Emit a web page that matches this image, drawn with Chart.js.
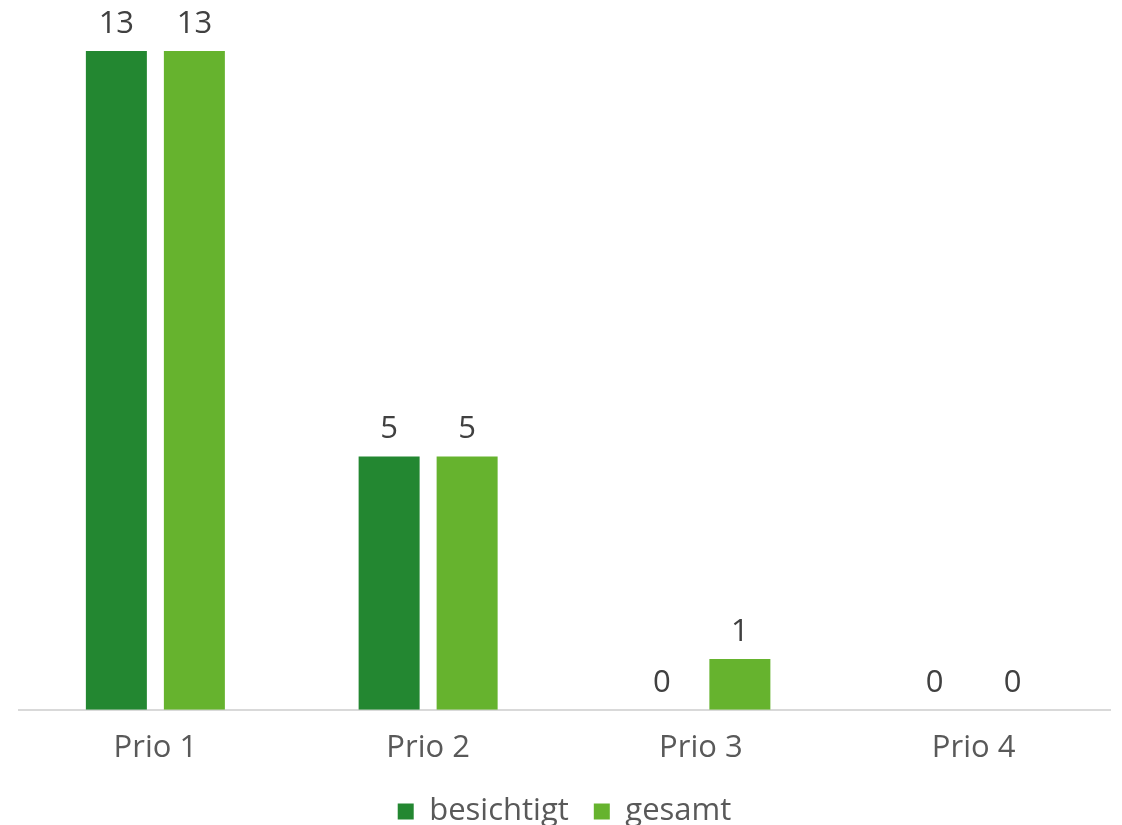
<!DOCTYPE html>
<html>
<head>
<meta charset="utf-8">
<script src="https://cdn.jsdelivr.net/npm/chart.js@4/dist/chart.umd.min.js"></script>
<style>
html,body{margin:0;padding:0;background:#fff;}
#wrap{width:1122px;height:825px;}
</style>
</head>
<body>
<div id="wrap"><canvas id="c" width="1122" height="825"></canvas></div>
<script>
const categories = ["Prio 1", "Prio 2", "Prio 3", "Prio 4"];
const besichtigt = [13, 5, 0, 0];
const gesamt = [13, 5, 1, 0];
const seriesNames = ["besichtigt", "gesamt"];
const colors = ["#238731", "#66b32e"];
const FONT = "'Open Sans', 'Noto Sans', sans-serif";

const valueLabels = {
  id: 'valueLabels',
  afterDatasetsDraw(chart) {
    const ctx = chart.ctx;
    ctx.save();
    ctx.font = "31px " + FONT;
    ctx.fillStyle = "#404040";
    ctx.textAlign = "center";
    ctx.textBaseline = "middle";
    chart.data.datasets.forEach((ds, i) => {
      const meta = chart.getDatasetMeta(i);
      meta.data.forEach((el, j) => {
        ctx.fillText(String(ds.data[j]), el.x, el.y - 27);
      });
    });
    ctx.restore();
  }
};

const legendShift = {
  id: 'legendShift',
  afterLayout(chart) {
    if (chart.legend) {
      chart.legend.top -= 16;
      chart.legend.bottom -= 16;
    }
  }
};

new Chart(document.getElementById('c'), {
  type: 'bar',
  data: {
    labels: categories,
    datasets: [
      { label: seriesNames[0], data: besichtigt, backgroundColor: colors[0], categoryPercentage: 0.572, barPercentage: 0.782 },
      { label: seriesNames[1], data: gesamt, backgroundColor: colors[1], categoryPercentage: 0.572, barPercentage: 0.782 }
    ]
  },
  options: {
    responsive: false,
    animation: false,
    devicePixelRatio: 1,
    layout: { padding: { top: 51, left: 19, right: 12, bottom: -28 } },
    plugins: {
      legend: {
        position: 'bottom',
        labels: {
          font: { family: FONT, size: 31 },
          color: '#595959',
          boxWidth: 16,
          boxHeight: 16,
          padding: 25
        }
      },
      tooltip: { enabled: false },
      title: { display: false }
    },
    scales: {
      x: {
        grid: { display: false, drawTicks: false },
        border: { display: true, color: '#d9d9d9', width: 2 },
        ticks: { font: { family: FONT, size: 31 }, color: '#595959', padding: 20 }
      },
      y: {
        display: false,
        min: 0,
        max: 13
      }
    }
  },
  plugins: [valueLabels, legendShift]
});
</script>
</body>
</html>
